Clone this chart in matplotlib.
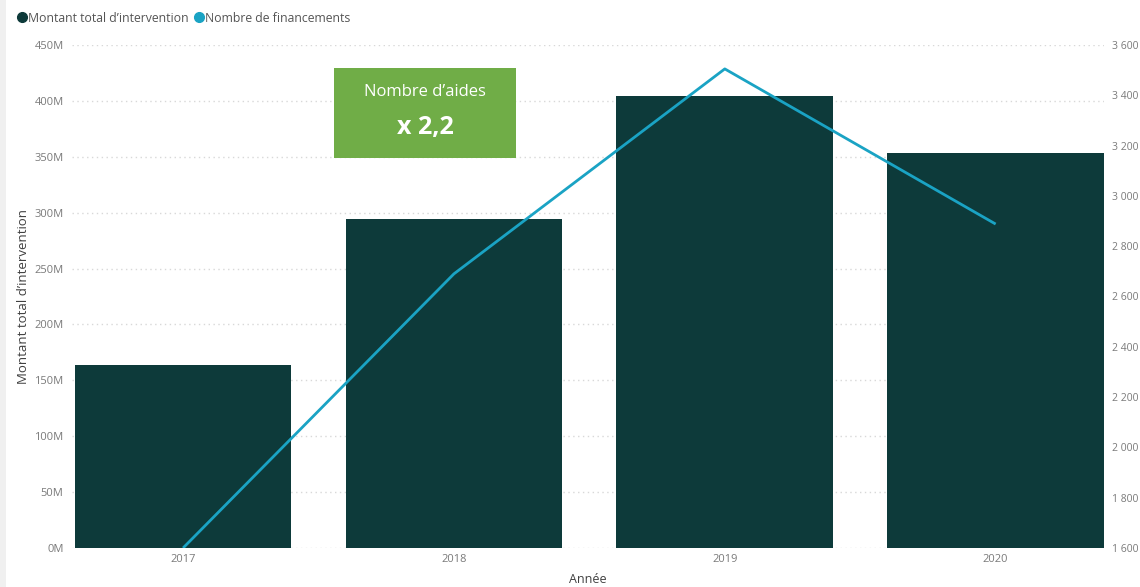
import matplotlib
matplotlib.use("Agg")
import matplotlib.pyplot as plt
from matplotlib.patches import Rectangle
from matplotlib.lines import Line2D
import matplotlib.ticker as mticker

years = ["2017", "2018", "2019", "2020"]
montant_m = [164, 294, 404, 353]          # millions
nb_financements = [1600, 2690, 3505, 2888]
left_ticks = [0, 50, 100, 150, 200, 250, 300, 350, 400, 450]
right_ticks = [1600, 1800, 2000, 2200, 2400, 2600, 2800, 3000, 3200, 3400, 3600]

plt.rcParams['font.family'] = ['Open Sans', 'DejaVu Sans']

W, H = 1140, 587
fig = plt.figure(figsize=(W / 100, H / 100), dpi=100)
fig.patch.set_facecolor("white")

ax_l, ax_r, ax_b, ax_t = 72, 1104, 548, 45
ax = fig.add_axes([ax_l / W, 1 - ax_b / H, (ax_r - ax_l) / W, (ax_b - ax_t) / H])

bar_color = "#0D3A3A"
line_color = "#1AA3C4"
tick_color = "#7A7A7A"

x = list(range(len(years)))
ax.bar(x, montant_m, width=0.8, color=bar_color, zorder=2)
ax.set_xlim(-0.41, 3.40)
ax.set_ylim(0, 450)
ax.set_yticks(left_ticks)
ax.yaxis.set_major_formatter(mticker.FuncFormatter(lambda v, p: f"{int(v)}M"))
ax.set_xticks(x)
ax.set_xticklabels(years)
ax.grid(axis="y", color="#D8D8D8", linestyle=(0, (1, 2.5)), linewidth=1, zorder=0)
ax.set_axisbelow(True)
for s in ax.spines.values():
    s.set_visible(False)
ax.tick_params(axis="both", length=0, labelsize=8, colors=tick_color, pad=6)
ax.tick_params(axis="x", pad=4)
ax.set_ylabel("Montant total d\u2019intervention", fontsize=9.5, color="#404040", labelpad=3)
ax.set_xlabel("Ann\u00e9e", fontsize=9, color="#404040", labelpad=6)

ax2 = ax.twinx()
ax2.plot(x, nb_financements, color=line_color, linewidth=2, zorder=3, solid_capstyle="butt")
ax2.set_ylim(1600, 3600)
ax2.set_yticks(right_ticks)
ax2.yaxis.set_major_formatter(mticker.FuncFormatter(lambda v, p: f"{int(v):,}".replace(",", " ")))
for s in ax2.spines.values():
    s.set_visible(False)
ax2.tick_params(axis="y", length=0, labelsize=7.5, colors=tick_color, pad=6)

# Legend
handles = [
    Line2D([], [], marker="o", linestyle="none", markersize=7, markerfacecolor=bar_color, markeredgecolor=bar_color),
    Line2D([], [], marker="o", linestyle="none", markersize=7, markerfacecolor=line_color, markeredgecolor=line_color),
]
fig.legend(handles, ["Montant total d\u2019intervention", "Nombre de financements"],
           loc="center left", bbox_to_anchor=(16 / W, 1 - 18 / H), ncol=2, frameon=False,
           fontsize=8.8, handletextpad=0.0, columnspacing=0.3, labelcolor="#555555",
           borderaxespad=0, borderpad=0, handlelength=1.0)

# Green annotation box
bx0, bx1, by0, by1 = 334, 516, 68, 158
fig.patches.append(Rectangle((bx0 / W, 1 - by1 / H), (bx1 - bx0) / W, (by1 - by0) / H,
                             transform=fig.transFigure, facecolor="#70AD47", edgecolor="none", zorder=5))
cx = (bx0 + bx1) / 2 / W
fig.text(cx, 1 - 92 / H, "Nombre d\u2019aides", ha="center", va="center", color="white", fontsize=12, zorder=6)
fig.text(cx, 1 - 128 / H, "x 2,2", ha="center", va="center", color="white", fontsize=18,
         fontweight="bold", zorder=6)

# light left border strip
fig.patches.append(Rectangle((0, 0), 6 / W, 1, transform=fig.transFigure, facecolor="#F0F0F0",
                             edgecolor="none", zorder=0))

fig.savefig("out.png", dpi=100, facecolor="white")
